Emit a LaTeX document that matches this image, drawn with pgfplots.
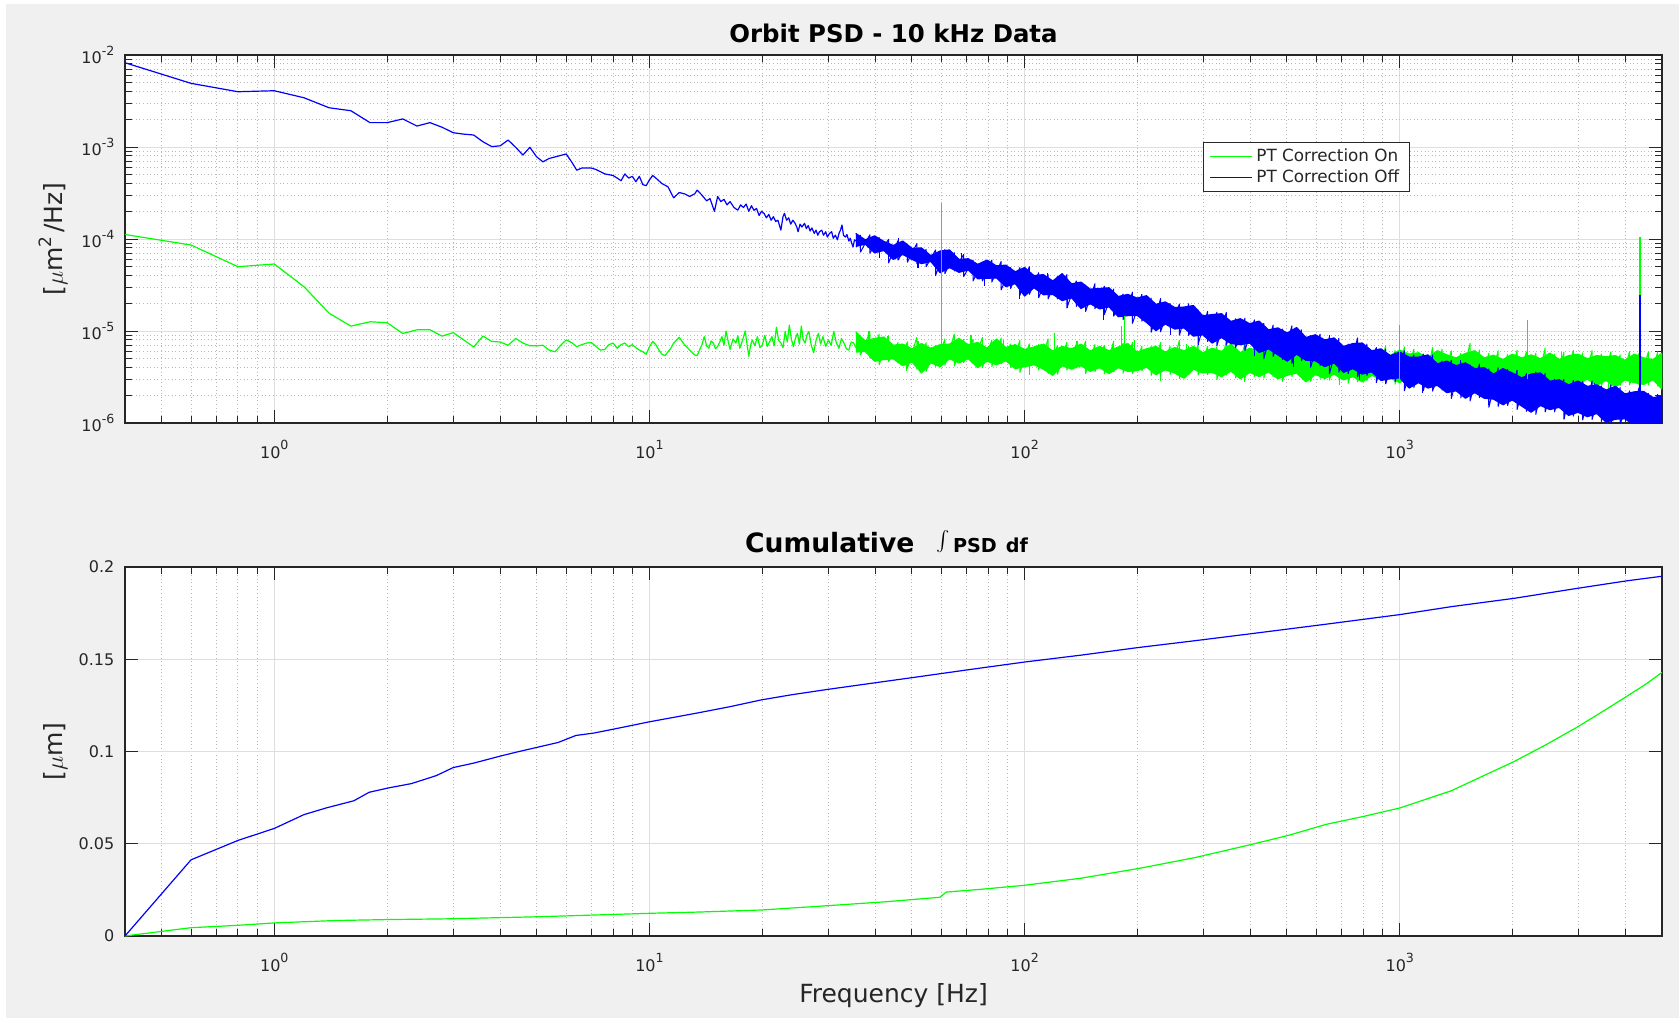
\documentclass[border=0pt]{standalone}
\usepackage{fontspec}
\setmainfont{DejaVu Sans}
\usepackage{pgfplots}
\pgfplotsset{compat=1.18}

\definecolor{bggray}{RGB}{240,240,240}
\definecolor{axcol}{RGB}{38,38,38}
\definecolor{majgrid}{RGB}{222,222,222}
\definecolor{mingrid}{RGB}{185,185,185}
\definecolor{legbox}{RGB}{40,40,40}
\definecolor{gOn}{RGB}{0,255,0}
\definecolor{bOff}{RGB}{0,0,255}

\newcommand\tickfont{\fontsize{8}{9.6}\selectfont}
\newcommand\sups[1]{\raisebox{4.4pt}{\fontsize{6.3}{7}\selectfont #1}}

\begin{document}
\begin{tikzpicture}
% figure background
\fill[bggray] (0,0) rectangle (839.5pt,509pt);
\fill[white] (0,0) rectangle (3pt,509pt);
\fill[white] (0,507pt) rectangle (839.5pt,509pt);

% ---------------- power spectral density ----------------
\begin{axis}[
  at={(62.5pt,297.5pt)}, anchor=south west,
  scale only axis, width=768.5pt, height=184pt,
  xmode=log, xmin=0.4, xmax=5000,
  xtick={1,10,100,1000},
  xticklabels={{10\sups{0}},{10\sups{1}},{10\sups{2}},{10\sups{3}}},
  minor xtick={0.5,0.6,0.7,0.8,0.9,2,3,4,5,6,7,8,9,20,30,40,50,60,70,80,90,200,300,400,500,600,700,800,900,2000,3000,4000},
  ymode=log, ymin=1e-6, ymax=1e-2,
  ytick={1e-6,1e-5,1e-4,1e-3,1e-2},
  yticklabels={{10\sups{-6}},{10\sups{-5}},{10\sups{-4}},{10\sups{-3}},{10\sups{-2}}},
  minor ytick={2e-6,3e-6,4e-6,5e-6,6e-6,7e-6,8e-6,9e-6,
               2e-5,3e-5,4e-5,5e-5,6e-5,7e-5,8e-5,9e-5,
               2e-4,3e-4,4e-4,5e-4,6e-4,7e-4,8e-4,9e-4,
               2e-3,3e-3,4e-3,5e-3,6e-3,7e-3,8e-3,9e-3},
  xmajorgrids, xminorgrids, ymajorgrids, yminorgrids,
  tick align=inside,
  major tick length=6.5pt, minor tick length=3.3pt,
  tick style={draw=axcol, line width=0.5pt},
  axis line style={draw=axcol, line width=0.6pt},
  tick label style={font=\tickfont, text=axcol},
  xticklabel style={yshift=-5pt},
  yticklabel style={xshift=-1.8pt},
  major grid style={draw=majgrid, line width=0.5pt},
  minor grid style={draw=mingrid, line width=0.5pt, dash pattern=on 0.5pt off 1.3pt},
  axis background/.style={fill=white},
  every axis plot/.append style={line join=round, line width=0.6pt},
  legend style={at={(0.7012,0.7644)}, anchor=north west,
    draw=legbox, line width=0.5pt, fill=white,
    font=\fontsize{8.4}{10}\selectfont, text=axcol,
    inner xsep=3pt, inner ysep=1.8pt, row sep=0pt,
    nodes={inner xsep=2pt, inner ysep=1.3pt}},
  legend cell align=left,
  legend image code/.code={\draw[#1, line width=0.6pt] (0pt,0pt) -- (21pt,0pt);},
]
\addlegendimage{draw=gOn}
\addlegendentry{PT Correction On}
\addlegendimage{draw=bOff}
\addlegendentry{PT Correction Off}

% correction on: low-frequency trace
\addplot[draw=gOn, forget plot] coordinates {
(0.4,1.12e-4) (0.6,8.6e-5) (0.8,5.0e-5) (1.0,5.35e-5) (1.2,3.03e-5) (1.4,1.56e-5)
(1.6,1.13e-5) (1.8,1.26e-5) (2.0,1.23e-5) (2.2,9.4e-6) (2.4,1.03e-5) (2.6,1.03e-5)
(2.8,8.8e-6) (3.0,9.6e-6) (3.2,8.0e-6) (3.4,6.7e-6) (3.6,8.8e-6) (3.8,7.7e-6)
(4.0,7.6e-6) (4.2,7.0e-6) (4.4,8.3e-6) (4.6,7.4e-6) (4.8,6.9e-6) (5.0,6.9e-6)
(5.2,7.0e-6) (5.4,6.2e-6) (5.6,5.95e-6) (5.8,7.0e-6) (6.0,8.0e-6) (6.2,7.5e-6)
(6.4,6.75e-6) (6.6,7.1e-6) (6.8,7.4e-6) (7.0,7.5e-6) (7.2,6.8e-6) (7.4,6.2e-6)
(7.6,6.3e-6) (7.8,7.1e-6) (8.0,7.4e-6) (8.2,6.5e-6) (8.4,7.1e-6) (8.6,7.4e-6)
(8.8,6.75e-6) (9.0,7.1e-6) (9.2,6.6e-6) (9.4,6.2e-6) (9.6,5.95e-6) (9.8,5.6e-6)
(10.0,6.75e-6) (10.2,7.7e-6) (10.4,7.1e-6) (10.6,6.2e-6) (10.8,5.6e-6) (11.0,5.4e-6)
(11.4,6.5e-6) (11.6,7.4e-6) (12.0,8.55e-6) (12.4,7.1e-6) (12.8,6.2e-6) (13.2,5.5e-6)
(13.4,5.4e-6) (13.8,7.1e-6) (14.0,8.7e-6) (14.2,6.9e-6) (14.4,6.5e-6) (14.6,7.8e-6)
(14.8,7.4e-6) (15.0,6.4e-6) (15.2,6.8e-6) (15.4,7.6e-6) (15.6,8.7e-6) (15.8,7.0e-6)
(16.0,1.0e-5) (16.2,7.8e-6) (16.4,6.3e-6) (16.7,8.2e-6) (17.0,7.4e-6) (17.2,8.9e-6)
(17.4,6.5e-6) (17.7,7.9e-6) (18.0,1.0e-5) (18.2,7.2e-6) (18.4,5.3e-6) (18.6,7.0e-6)
(18.8,8.0e-6) (19.1,6.9e-6) (19.4,8.7e-6) (19.7,6.6e-6) (20.0,7.1e-6) (20.3,9.0e-6)
(20.6,6.8e-6) (20.9,7.6e-6) (21.2,8.7e-6) (21.5,6.9e-6) (21.8,1.1e-5) (22.1,7.9e-6)
(22.4,7.4e-6) (22.7,6.6e-6) (23.0,9.9e-6) (23.3,7.6e-6) (23.6,1.16e-5) (23.9,8.1e-6)
(24.2,6.75e-6) (24.5,8.4e-6) (24.8,9.4e-6) (25.1,7.2e-6) (25.4,1.13e-5) (25.7,8.0e-6)
(26.0,7.4e-6) (26.3,9.1e-6) (26.6,9.9e-6) (27.0,7.0e-6) (27.4,5.8e-6) (27.8,7.9e-6)
(28.2,9.4e-6) (28.6,7.2e-6) (29.0,8.7e-6) (29.5,6.8e-6) (30.0,8.0e-6) (30.5,7.0e-6)
(31.0,9.9e-6) (31.5,7.4e-6) (32.0,6.5e-6) (32.5,8.3e-6) (33.0,7.4e-6) (33.5,6.4e-6)
(34.0,6.2e-6) (34.5,7.6e-6) (35.0,7.4e-6) (35.5,6.6e-6)
};

% correction on: noise band above 35 Hz (upper envelope, then lower envelope)
\addplot[draw=gOn, fill=gOn, forget plot] coordinates {
(35.48,9.8e-6) (37.58,7.8e-6) (39.81,8.3e-6) (42.17,8.6e-6) (44.67,7.0e-6) (47.32,7.2e-6)
(50.12,6.4e-6) (53.09,7.3e-6) (56.23,6.5e-6) (59.57,7.1e-6) (63.10,7.2e-6) (66.83,8.3e-6)
(70.79,7.1e-6) (74.99,7.5e-6) (79.43,6.5e-6) (84.14,8.2e-6) (89.13,6.6e-6) (94.41,7.1e-6)
(100.0,6.3e-6) (105.9,6.7e-6) (112.2,7.2e-6) (118.9,6.05e-6) (125.9,6.8e-6) (133.4,6.4e-6)
(141.3,7.2e-6) (149.6,6.05e-6) (158.5,6.8e-6) (167.9,6.1e-6) (177.8,6.7e-6) (188.4,7.3e-6)
(199.5,5.9e-6) (211.3,6.4e-6) (223.9,6.8e-6) (237.1,5.9e-6) (251.2,6.6e-6) (266.1,6.1e-6)
(281.8,6.8e-6) (298.5,5.8e-6) (316.2,6.5e-6) (335.0,6.0e-6) (354.8,7.2e-6) (375.8,5.8e-6)
(398.1,6.5e-6) (421.7,6.0e-6) (446.7,6.5e-6) (473.2,5.5e-6) (501.2,6.2e-6) (530.9,6.6e-6)
(562.3,5.75e-6) (595.7,6.3e-6) (631.0,5.6e-6) (668.3,6.3e-6) (707.9,5.75e-6) (749.9,6.0e-6)
(794.3,6.5e-6) (841.4,5.4e-6) (891.3,6.0e-6) (944.1,5.45e-6) (1000,6.2e-6) (1059,5.6e-6)
(1122,5.8e-6) (1189,5.1e-6) (1259,6.1e-6) (1334,5.5e-6) (1413,5.1e-6) (1496,5.7e-6)
(1585,6.1e-6) (1679,5.1e-6) (1778,5.45e-6) (1884,4.9e-6) (1995,5.6e-6) (2113,5.1e-6)
(2239,5.5e-6) (2371,5.0e-6) (2512,5.75e-6) (2661,4.9e-6) (2818,5.4e-6) (2985,5.6e-6)
(3162,5.0e-6) (3350,5.4e-6) (3548,5.25e-6) (3758,5.4e-6) (3981,4.8e-6) (4217,5.6e-6)
(4467,5.1e-6) (4732,4.9e-6) (5000,5.75e-6)
(5000,2.34e-6) (4732,2.95e-6) (4467,2.63e-6) (4217,2.75e-6) (3981,2.95e-6) (3758,2.45e-6)
(3548,2.9e-6) (3350,2.57e-6) (3162,3.0e-6) (2985,2.7e-6) (2818,2.63e-6) (2661,2.5e-6)
(2512,2.95e-6) (2371,2.7e-6) (2239,2.57e-6) (2113,2.9e-6) (1995,2.75e-6) (1884,2.47e-6)
(1778,3.0e-6) (1679,2.7e-6) (1585,2.9e-6) (1496,2.6e-6) (1413,3.1e-6) (1334,2.84e-6)
(1259,3.07e-6) (1189,2.5e-6) (1122,2.84e-6) (1059,3.2e-6) (1000,2.75e-6) (944.1,3.07e-6)
(891.3,3.0e-6) (841.4,3.3e-6) (794.3,2.8e-6) (749.9,3.2e-6) (707.9,2.95e-6) (668.3,3.4e-6)
(631.0,3.05e-6) (595.7,3.37e-6) (562.3,2.8e-6) (530.9,3.5e-6) (501.2,3.3e-6) (473.2,3.03e-6)
(446.7,3.6e-6) (421.7,3.2e-6) (398.1,3.55e-6) (375.8,3.03e-6) (354.8,3.67e-6) (335.0,3.2e-6)
(316.2,3.55e-6) (298.5,3.5e-6) (281.8,3.85e-6) (266.1,3.07e-6) (251.2,3.5e-6) (237.1,3.8e-6)
(223.9,3.35e-6) (211.3,4.05e-6) (199.5,3.7e-6) (188.4,3.65e-6) (177.8,4.0e-6) (167.9,3.45e-6)
(158.5,4.0e-6) (149.6,3.65e-6) (141.3,4.2e-6) (133.4,3.86e-6) (125.9,4.2e-6) (118.9,3.3e-6)
(112.2,3.85e-6) (105.9,4.3e-6) (100.0,4.1e-6) (94.41,3.9e-6) (89.13,4.75e-6) (84.14,4.3e-6)
(79.43,4.7e-6) (74.99,4.0e-6) (70.79,5.0e-6) (66.83,4.5e-6) (63.10,5.0e-6) (59.57,4.1e-6)
(56.23,4.5e-6) (53.09,3.5e-6) (50.12,4.6e-6) (47.32,4.2e-6) (44.67,5.0e-6) (42.17,4.9e-6)
(39.81,4.7e-6) (37.58,6.0e-6) (35.48,5.9e-6)
};

% correction on: sample-to-sample scatter at the band edges
\addplot[draw=gOn, line width=0.5pt, forget plot] coordinates {
(36.52,8.95e-6) (36.52,5.5e-6) (38.68,9.75e-6) (38.68,5.1e-6) (40.97,9.2e-6) (40.97,4.3e-6)
(43.40,8.9e-6) (43.40,4.65e-6) (45.97,7.5e-6) (45.97,4.5e-6) (48.70,7.6e-6) (48.70,3.93e-6)
(51.58,8.5e-6) (51.58,3.84e-6) (54.64,7.45e-6) (54.64,3.64e-6) (57.88,6.95e-6) (57.88,4.13e-6)
(61.31,8.2e-6) (61.31,4.24e-6) (64.94,9.2e-6) (64.94,4.16e-6) (68.79,8.1e-6) (68.79,4.52e-6)
(72.86,8.15e-6) (72.86,4.43e-6) (77.18,8.5e-6) (77.18,4.02e-6) (81.75,7.96e-6) (81.75,4.1e-6)
(86.60,8.4e-6) (86.60,4.39e-6) (91.73,7.2e-6) (91.73,4.03e-6) (97.16,7.9e-6) (97.16,3.55e-6)
(102.9,7.26e-6) (102.9,4.0e-6) (109.0,7.13e-6) (109.0,3.77e-6) (115.5,8.2e-6) (115.5,3.46e-6)
(122.3,6.95e-6) (122.3,3.38e-6) (129.6,7.55e-6) (129.6,3.76e-6) (137.3,7.16e-6) (137.3,3.97e-6)
(145.4,7.76e-6) (145.4,3.44e-6) (154.0,7.14e-6) (154.0,3.63e-6) (163.1,6.98e-6) (163.1,3.41e-6)
(172.8,7.76e-6) (172.8,3.6e-6) (183.0,7.36e-6) (183.0,3.48e-6) (193.9,7.5e-6) (193.9,3.45e-6)
(205.4,6.85e-6) (205.4,3.69e-6) (217.5,6.8e-6) (217.5,3.29e-6) (230.4,7.5e-6) (230.4,3.46e-6)
(244.1,6.8e-6) (244.1,3.36e-6) (258.5,7.9e-6) (258.5,3.05e-6) (273.8,6.84e-6) (273.8,3.38e-6)
(290.1,7.2e-6) (290.1,3.32e-6) (307.3,6.82e-6) (307.3,3.35e-6) (325.5,6.75e-6) (325.5,2.96e-6)
(344.8,7.73e-6) (344.8,3.33e-6) (365.2,6.8e-6) (365.2,3.08e-6) (386.8,7.4e-6) (386.8,3.08e-6)
(409.7,6.93e-6) (409.7,3.21e-6) (434.0,6.43e-6) (434.0,3.08e-6) (459.7,6.89e-6) (459.7,3.19e-6)
(487.0,6.34e-6) (487.0,2.83e-6) (515.8,7.5e-6) (515.8,3.2e-6) (546.4,6.49e-6) (546.4,3.1e-6)
(578.8,7.48e-6) (578.8,2.84e-6) (613.1,6.6e-6) (613.1,3.05e-6) (649.4,6.44e-6) (649.4,2.92e-6)
(687.9,6.93e-6) (687.9,3.07e-6) (728.6,6.2e-6) (728.6,2.7e-6) (771.8,7.38e-6) (771.8,2.81e-6)
(817.5,6.62e-6) (817.5,2.9e-6) (866.0,6.2e-6) (866.0,2.92e-6) (917.3,6.95e-6) (917.3,2.94e-6)
(971.6,6.12e-6) (971.6,2.64e-6) (1029,6.73e-6) (1029,2.79e-6) (1090,6.35e-6) (1090,2.88e-6)
(1155,5.6e-6) (1155,2.38e-6) (1223,6.6e-6) (1223,2.69e-6) (1296,6.32e-6) (1296,2.72e-6)
(1372,6.1e-6) (1372,2.77e-6) (1454,5.71e-6) (1454,2.79e-6) (1540,7.35e-6) (1540,2.5e-6)
(1631,6.22e-6) (1631,2.66e-6) (1728,5.74e-6) (1728,2.62e-6) (1830,6.12e-6) (1830,2.64e-6)
(1939,5.56e-6) (1939,2.29e-6) (2054,6.17e-6) (2054,2.64e-6) (2175,5.93e-6) (2175,2.59e-6)
(2304,5.7e-6) (2304,2.39e-6) (2441,6.52e-6) (2441,2.73e-6) (2585,5.61e-6) (2585,2.51e-6)
(2738,5.89e-6) (2738,2.41e-6) (2901,6.14e-6) (2901,2.54e-6) (3073,5.77e-6) (3073,2.55e-6)
(3255,6.12e-6) (3255,2.7e-6) (3447,5.61e-6) (3447,2.51e-6) (3652,5.93e-6) (3652,2.49e-6)
(3868,5.51e-6) (3868,2.56e-6) (4097,5.96e-6) (4097,2.59e-6) (4340,5.68e-6) (4340,2.61e-6)
(4597,5.92e-6) (4597,2.61e-6) (4870,5.93e-6) (4870,2.51e-6)
};

% correction on: isolated excursions out of the noise band
\addplot[draw=gOn, forget plot] coordinates {(38.5,6.6e-6) (38.5,1.0e-5)};
\addplot[draw=gOn, forget plot] coordinates {(43,6.1e-6) (43,8.8e-6)};
\addplot[draw=gOn, forget plot] coordinates {(48.5,5.7e-6) (48.5,3.7e-6)};
\addplot[draw=gOn, forget plot] coordinates {(52,5.5e-6) (52,7.8e-6)};
\addplot[draw=gOn, forget plot] coordinates {(72,5.9e-6) (72,9.1e-6)};
\addplot[draw=gOn, forget plot] coordinates {(88,5.5e-6) (88,7.9e-6)};
\addplot[draw=gOn, forget plot] coordinates {(103,5.2e-6) (103,3.3e-6)};
\addplot[draw=gOn, forget plot] coordinates {(138,5.1e-6) (138,7.7e-6)};
\addplot[draw=gOn, forget plot] coordinates {(172,5.0e-6) (172,7.2e-6)};
\addplot[draw=gOn, forget plot] coordinates {(230,4.8e-6) (230,2.84e-6)};
\addplot[draw=gOn, forget plot] coordinates {(270,4.75e-6) (270,7.2e-6)};
\addplot[draw=gOn, forget plot] coordinates {(385,4.6e-6) (385,2.77e-6)};
\addplot[draw=gOn, forget plot] coordinates {(480,4.5e-6) (480,6.95e-6)};
\addplot[draw=gOn, forget plot] coordinates {(690,4.3e-6) (690,2.57e-6)};
\addplot[draw=gOn, forget plot] coordinates {(860,4.2e-6) (860,6.5e-6)};
\addplot[draw=gOn, forget plot] coordinates {(1240,4.1e-6) (1240,2.4e-6)};
\addplot[draw=gOn, forget plot] coordinates {(1630,3.9e-6) (1630,5.9e-6)};
\addplot[draw=gOn, forget plot] coordinates {(2050,3.8e-6) (2050,2.34e-6)};
\addplot[draw=gOn, forget plot] coordinates {(2700,3.8e-6) (2700,5.9e-6)};
\addplot[draw=gOn, forget plot] coordinates {(3600,3.8e-6) (3600,2.24e-6)};
\addplot[draw=gOn, forget plot] coordinates {(4100,3.8e-6) (4100,5.75e-6)};

% correction off: low-frequency trace
\addplot[draw=bOff, forget plot] coordinates {
(0.4,8.24e-3) (0.6,4.92e-3) (0.8,3.99e-3) (1.0,4.09e-3) (1.2,3.43e-3) (1.4,2.67e-3)
(1.6,2.48e-3) (1.8,1.84e-3) (2.0,1.84e-3) (2.2,2.02e-3) (2.4,1.69e-3) (2.6,1.84e-3)
(2.8,1.64e-3) (3.0,1.43e-3) (3.2,1.38e-3) (3.4,1.35e-3) (3.6,1.14e-3) (3.8,1.01e-3)
(4.0,1.03e-3) (4.2,1.19e-3) (4.4,9.93e-4) (4.6,8.18e-4) (4.8,9.93e-4) (5.0,7.85e-4)
(5.2,6.9e-4) (5.4,7.5e-4) (5.6,7.8e-4) (5.8,8.1e-4) (6.0,8.4e-4) (6.2,6.9e-4)
(6.4,5.6e-4) (6.6,5.9e-4) (6.8,5.9e-4) (7.0,5.9e-4) (7.2,5.7e-4) (7.4,5.4e-4)
(7.6,5.1e-4) (7.8,5.0e-4) (8.0,4.9e-4) (8.2,4.6e-4) (8.4,4.3e-4) (8.6,5.1e-4)
(8.8,4.6e-4) (9.0,4.8e-4) (9.2,4.2e-4) (9.4,4.8e-4) (9.6,3.9e-4) (9.8,3.8e-4)
(10.0,4.4e-4) (10.2,4.9e-4) (10.4,4.6e-4) (10.8,4.0e-4) (11.2,3.7e-4) (11.6,2.8e-4)
(12.0,3.2e-4) (12.4,3.1e-4) (12.8,2.9e-4) (13.2,3.1e-4) (13.4,3.4e-4) (13.8,3.0e-4)
(14.2,2.6e-4) (14.5,2.75e-4) (14.9,2.0e-4) (15.2,2.9e-4) (15.5,2.55e-4) (15.8,2.7e-4)
(16.1,2.35e-4) (16.4,2.55e-4) (16.8,2.2e-4) (17.2,2.06e-4) (17.5,2.35e-4) (17.8,2.2e-4)
(18.1,2.4e-4) (18.4,2.0e-4) (18.7,2.3e-4) (19.0,2.05e-4) (19.3,2.15e-4) (19.6,1.8e-4)
(19.9,2.0e-4) (20.2,1.9e-4) (20.5,1.7e-4) (20.8,1.85e-4) (21.1,1.6e-4) (21.4,1.75e-4)
(21.7,1.55e-4) (22.0,1.6e-4) (22.4,1.25e-4) (22.7,1.75e-4) (22.9,1.9e-4) (23.2,1.6e-4)
(23.5,1.7e-4) (23.8,1.45e-4) (24.1,1.6e-4) (24.4,1.5e-4) (24.7,1.35e-4) (24.9,1.2e-4)
(25.2,1.45e-4) (25.5,1.35e-4) (25.9,1.48e-4) (26.2,1.3e-4) (26.5,1.4e-4) (26.8,1.22e-4)
(27.1,1.32e-4) (27.5,1.15e-4) (27.8,1.25e-4) (28.1,1.1e-4) (28.4,1.2e-4) (28.8,1.25e-4)
(29.1,1.1e-4) (29.5,1.2e-4) (29.8,1.05e-4) (30.2,1.15e-4) (30.6,1.2e-4) (30.9,1.02e-4)
(31.3,1.1e-4) (31.7,9.8e-5) (32.0,1.15e-4) (32.3,1.25e-4) (32.6,1.42e-4) (32.9,1.1e-4)
(33.3,1.05e-4) (33.6,1.12e-4) (34.0,9.5e-5) (34.3,1.02e-4) (34.6,9.0e-5) (34.9,8.2e-5)
(35.2,9.8e-5) (35.6,9.5e-5)
};

% correction off: noise band above 35 Hz (upper envelope, then lower envelope)
\addplot[draw=bOff, fill=bOff, forget plot] coordinates {
(35.48,1.15e-4) (37.58,9.8e-5) (39.81,1.08e-4) (42.17,9.4e-5) (44.67,8.5e-5) (47.32,9.5e-5)
(50.12,7.9e-5) (53.09,8.0e-5) (56.23,6.6e-5) (59.57,7.4e-5) (63.10,7.6e-5) (66.83,6.0e-5)
(70.79,6.1e-5) (74.99,5.3e-5) (79.43,5.9e-5) (84.14,5.1e-5) (89.13,5.2e-5) (94.41,4.4e-5)
(100.0,4.9e-5) (105.9,4.0e-5) (112.2,4.1e-5) (118.9,3.5e-5) (125.9,4.2e-5) (133.4,3.25e-5)
(141.3,3.4e-5) (149.6,2.85e-5) (158.5,2.9e-5) (167.9,2.95e-5) (177.8,2.37e-5) (188.4,2.5e-5)
(199.5,2.28e-5) (211.3,2.42e-5) (223.9,1.95e-5) (237.1,2.07e-5) (251.2,1.8e-5) (266.1,1.82e-5)
(281.8,1.89e-5) (298.5,1.46e-5) (316.2,1.51e-5) (335.0,1.54e-5) (354.8,1.27e-5) (375.8,1.36e-5)
(398.1,1.2e-5) (421.7,1.28e-5) (446.7,1.03e-5) (473.2,1.08e-5) (501.2,9.5e-6) (530.9,1.09e-5)
(562.3,8.5e-6) (595.7,9.1e-6) (631.0,8.0e-6) (668.3,8.4e-6) (707.9,6.8e-6) (749.9,7.3e-6)
(794.3,7.4e-6) (841.4,6.1e-6) (891.3,6.4e-6) (944.1,5.4e-6) (1000,5.9e-6) (1059,5.2e-6)
(1122,5.2e-6) (1189,5.5e-6) (1259,4.4e-6) (1334,4.7e-6) (1413,4.2e-6) (1496,4.5e-6)
(1585,3.9e-6) (1679,4.0e-6) (1778,3.4e-6) (1884,3.9e-6) (1995,3.5e-6) (2113,3.1e-6)
(2239,3.4e-6) (2371,3.5e-6) (2512,2.85e-6) (2661,2.95e-6) (2818,2.6e-6) (2985,2.86e-6)
(3162,2.5e-6) (3350,2.6e-6) (3548,2.28e-6) (3758,2.5e-6) (3981,2.07e-6) (4217,2.18e-6)
(4467,2.2e-6) (4732,1.89e-6) (5000,1.95e-6)
(5000,8.3e-7) (4732,1.01e-6) (4467,9.6e-7) (4217,9.5e-7) (3981,1.11e-6) (3758,1.1e-6)
(3548,1.02e-6) (3350,1.27e-6) (3162,1.17e-6) (2985,1.31e-6) (2818,1.21e-6) (2661,1.48e-6)
(2512,1.4e-6) (2371,1.55e-6) (2239,1.31e-6) (2113,1.53e-6) (1995,1.78e-6) (1884,1.58e-6)
(1778,1.82e-6) (1679,1.86e-6) (1585,2.14e-6) (1496,1.86e-6) (1413,2.24e-6) (1334,2.14e-6)
(1259,2.57e-6) (1189,2.4e-6) (1122,2.75e-6) (1059,2.4e-6) (1000,3.1e-6) (944.1,3.03e-6)
(891.3,2.9e-6) (841.4,3.6e-6) (794.3,3.4e-6) (749.9,3.9e-6) (707.9,3.55e-6) (668.3,4.5e-6)
(631.0,4.1e-6) (595.7,4.75e-6) (562.3,4.8e-6) (530.9,5.6e-6) (501.2,4.7e-6) (473.2,5.5e-6)
(446.7,6.4e-6) (421.7,5.85e-6) (398.1,7.4e-6) (375.8,7.1e-6) (354.8,7.3e-6) (335.0,8.5e-6)
(316.2,7.4e-6) (298.5,9.1e-6) (281.8,8.8e-6) (266.1,1.08e-5) (251.2,1.05e-5) (237.1,1.19e-5)
(223.9,1.01e-5) (211.3,1.24e-5) (199.5,1.48e-5) (188.4,1.47e-5) (177.8,1.43e-5) (167.9,1.83e-5)
(158.5,1.74e-5) (149.6,1.98e-5) (141.3,1.76e-5) (133.4,2.3e-5) (125.9,2.14e-5) (118.9,2.5e-5)
(112.2,2.48e-5) (105.9,2.96e-5) (100.0,2.4e-5) (94.41,3.28e-5) (89.13,3.03e-5) (84.14,3.78e-5)
(79.43,3.74e-5) (74.99,3.7e-5) (70.79,4.6e-5) (66.83,4.35e-5) (63.10,4.9e-5) (59.57,4.3e-5)
(56.23,5.7e-5) (53.09,5.4e-5) (50.12,6.0e-5) (47.32,6.8e-5) (44.67,6.0e-5) (42.17,7.5e-5)
(39.81,7.1e-5) (37.58,8.8e-5) (35.48,8.3e-5)
};

% correction off: sample-to-sample scatter at the band edges
\addplot[draw=bOff, line width=0.5pt, forget plot] coordinates {
(36.52,1.11e-4) (36.52,7.2e-5) (38.68,1.11e-4) (38.68,7.0e-5) (40.97,1.04e-4) (40.97,7.1e-5)
(43.40,9.9e-5) (43.40,5.5e-5) (45.97,9.6e-5) (45.97,5.9e-5) (48.70,8.8e-5) (48.70,5.6e-5)
(51.58,8.9e-5) (51.58,5.4e-5) (54.64,7.7e-5) (54.64,5.0e-5) (57.88,7.6e-5) (57.88,4.0e-5)
(61.31,7.7e-5) (61.31,4.2e-5) (64.94,7.1e-5) (64.94,4.5e-5) (68.79,6.8e-5) (68.79,3.9e-5)
(72.86,5.9e-5) (72.86,3.5e-5) (77.18,5.6e-5) (77.18,3.5e-5) (81.75,5.9e-5) (81.75,3.4e-5)
(86.60,5.7e-5) (86.60,2.8e-5) (91.73,4.9e-5) (91.73,2.9e-5) (97.16,4.9e-5) (97.16,2.44e-5)
(102.9,5.0e-5) (102.9,2.5e-5) (109.0,4.3e-5) (109.0,2.3e-5) (115.5,4.1e-5) (115.5,2.23e-5)
(122.3,3.9e-5) (122.3,2.24e-5) (129.6,4.1e-5) (129.6,1.78e-5) (137.3,3.5e-5) (137.3,1.85e-5)
(145.4,3.15e-5) (145.4,1.63e-5) (154.0,3.27e-5) (154.0,1.75e-5) (163.1,3.06e-5) (163.1,1.51e-5)
(172.8,2.86e-5) (172.8,1.45e-5) (183.0,2.52e-5) (183.0,1.33e-5) (193.9,2.64e-5) (193.9,1.21e-5)
(205.4,2.5e-5) (205.4,1.28e-5) (217.5,2.28e-5) (217.5,9.7e-6) (230.4,2.25e-5) (230.4,9.8e-6)
(244.1,1.99e-5) (244.1,1.09e-5) (258.5,1.96e-5) (258.5,9.0e-6) (273.8,1.98e-5) (273.8,8.95e-6)
(290.1,1.69e-5) (290.1,7.2e-6) (307.3,1.63e-5) (307.3,7.7e-6) (325.5,1.6e-5) (325.5,6.9e-6)
(344.8,1.59e-5) (344.8,7.05e-6) (365.2,1.36e-5) (365.2,6.6e-6) (386.8,1.38e-5) (386.8,6.15e-6)
(409.7,1.32e-5) (409.7,6.2e-6) (434.0,1.21e-5) (434.0,5.0e-6) (459.7,1.16e-5) (459.7,5.3e-6)
(487.0,1.05e-5) (487.0,4.9e-6) (515.8,1.14e-5) (515.8,4.45e-6) (546.4,1.03e-5) (546.4,4.75e-6)
(578.8,8.9e-6) (578.8,4.04e-6) (613.1,9.25e-6) (613.1,4.2e-6) (649.4,8.6e-6) (649.4,3.44e-6)
(687.9,8.3e-6) (687.9,3.57e-6) (728.6,7.2e-6) (728.6,3.43e-6) (771.8,8.4e-6) (771.8,3.17e-6)
(817.5,7.2e-6) (817.5,3.3e-6) (866.0,6.6e-6) (866.0,2.75e-6) (917.3,6.35e-6) (917.3,2.66e-6)
(971.6,5.8e-6) (971.6,2.82e-6) (1029,6.1e-6) (1029,2.24e-6) (1090,5.5e-6) (1090,2.43e-6)
(1155,5.6e-6) (1155,2.24e-6) (1223,5.5e-6) (1223,2.22e-6) (1296,4.72e-6) (1296,2.28e-6)
(1372,4.82e-6) (1372,1.85e-6) (1454,4.62e-6) (1454,1.88e-6) (1540,4.29e-6) (1540,1.74e-6)
(1631,4.37e-6) (1631,1.89e-6) (1728,3.87e-6) (1728,1.48e-6) (1830,3.98e-6) (1830,1.52e-6)
(1939,3.82e-6) (1939,1.55e-6) (2054,3.74e-6) (2054,1.4e-6) (2175,3.45e-6) (2175,1.34e-6)
(2304,3.59e-6) (2304,1.24e-6) (2441,3.47e-6) (2441,1.32e-6) (2585,2.99e-6) (2585,1.32e-6)
(2738,2.99e-6) (2738,1.1e-6) (2901,2.9e-6) (2901,1.19e-6) (3073,2.81e-6) (3073,1.08e-6)
(3255,2.86e-6) (3255,1.09e-6) (3447,2.5e-6) (3447,1.04e-6) (3652,2.6e-6) (3652,9.5e-7)
(3868,2.43e-6) (3868,9.5e-7) (4097,2.23e-6) (4097,9.5e-7) (4340,2.41e-6) (4340,9.5e-7)
(4597,2.1e-6) (4597,9.5e-7) (4870,2.05e-6) (4870,9.5e-7)
};

% correction off: isolated excursions out of the noise band
\addplot[draw=bOff, forget plot] coordinates {(41,8.5e-5) (41,6.2e-5)};
\addplot[draw=bOff, forget plot] coordinates {(46,7.6e-5) (46,1.02e-4)};
\addplot[draw=bOff, forget plot] coordinates {(52,6.8e-5) (52,4.8e-5)};
\addplot[draw=bOff, forget plot] coordinates {(68,5.2e-5) (68,7.1e-5)};
\addplot[draw=bOff, forget plot] coordinates {(78,4.6e-5) (78,3.1e-5)};
\addplot[draw=bOff, forget plot] coordinates {(97,3.7e-5) (97,2.24e-5)};
\addplot[draw=bOff, forget plot] coordinates {(115,3.2e-5) (115,4.3e-5)};
\addplot[draw=bOff, forget plot] coordinates {(130,2.8e-5) (130,1.8e-5)};
\addplot[draw=bOff, forget plot] coordinates {(162,2.2e-5) (162,1.33e-5)};
\addplot[draw=bOff, forget plot] coordinates {(205,1.74e-5) (205,2.54e-5)};
\addplot[draw=bOff, forget plot] coordinates {(245,1.46e-5) (245,9.0e-6)};
\addplot[draw=bOff, forget plot] coordinates {(290,1.22e-5) (290,7.0e-6)};
\addplot[draw=bOff, forget plot] coordinates {(345,1.04e-5) (345,1.57e-5)};
\addplot[draw=bOff, forget plot] coordinates {(410,8.9e-6) (410,5.4e-6)};
\addplot[draw=bOff, forget plot] coordinates {(520,7.2e-6) (520,4.1e-6)};
\addplot[draw=bOff, forget plot] coordinates {(650,5.9e-6) (650,9.0e-6)};
\addplot[draw=bOff, forget plot] coordinates {(780,5.0e-6) (780,2.9e-6)};
\addplot[draw=bOff, forget plot] coordinates {(1150,3.6e-6) (1150,2.1e-6)};
\addplot[draw=bOff, forget plot] coordinates {(1450,3.0e-6) (1450,4.8e-6)};
\addplot[draw=bOff, forget plot] coordinates {(1720,2.7e-6) (1720,1.58e-6)};
\addplot[draw=bOff, forget plot] coordinates {(2400,2.1e-6) (2400,3.45e-6)};
\addplot[draw=bOff, forget plot] coordinates {(2750,1.95e-6) (2750,1.1e-6)};
\addplot[draw=bOff, forget plot] coordinates {(3300,1.7e-6) (3300,2.74e-6)};

% narrow spectral lines
\addplot[draw=gOn, forget plot] coordinates {(60,4.3e-6) (60,2.45e-4)};
\addplot[draw=gOn, forget plot] coordinates {(120,5.0e-6) (120,9.6e-6)};
\addplot[draw=gOn, forget plot] coordinates {(181,4.0e-6) (181,1.12e-5)};
\addplot[draw=gOn, forget plot] coordinates {(185,4.0e-6) (185,1.44e-5)};
\addplot[draw=gOn, forget plot] coordinates {(196,4.0e-6) (196,7.9e-6)};
\addplot[draw=gOn, forget plot] coordinates {(1000,3.0e-6) (1000,1.16e-5)};
\addplot[draw=gOn, forget plot] coordinates {(2187,3.0e-6) (2187,1.32e-5)};
\addplot[draw=gOn, forget plot] coordinates {(4370,2.6e-6) (4370,1.06e-4)};
\addplot[draw=bOff, forget plot] coordinates {(4370,1.0e-6) (4370,2.45e-5)};
\end{axis}

% ---------------- cumulative integral ----------------
\begin{axis}[
  at={(62.5pt,41pt)}, anchor=south west,
  scale only axis, width=768.5pt, height=184.5pt,
  xmode=log, xmin=0.4, xmax=5000,
  xtick={1,10,100,1000},
  xticklabels={{10\sups{0}},{10\sups{1}},{10\sups{2}},{10\sups{3}}},
  minor xtick={0.5,0.6,0.7,0.8,0.9,2,3,4,5,6,7,8,9,20,30,40,50,60,70,80,90,200,300,400,500,600,700,800,900,2000,3000,4000},
  ymin=0, ymax=0.2,
  ytick={0,0.05,0.1,0.15,0.2},
  yticklabels={0,0.05,0.1,0.15,0.2},
  xmajorgrids, xminorgrids, ymajorgrids,
  tick align=inside,
  major tick length=6.5pt, minor tick length=3.3pt,
  tick style={draw=axcol, line width=0.5pt},
  axis line style={draw=axcol, line width=0.6pt},
  tick label style={font=\tickfont, text=axcol},
  xticklabel style={yshift=-5pt},
  yticklabel style={xshift=-1.8pt},
  major grid style={draw=majgrid, line width=0.5pt},
  minor grid style={draw=mingrid, line width=0.5pt, dash pattern=on 0.5pt off 1.3pt},
  axis background/.style={fill=white},
  every axis plot/.append style={line join=round, line width=0.6pt},
]
\addplot[draw=gOn] coordinates {
(0.4,0) (0.6,0.0045) (0.8,0.0058) (1.0,0.0071) (1.46,0.0084) (2.0,0.0089) (2.88,0.0093)
(4.98,0.0104) (10,0.0123) (13.6,0.0130) (19.9,0.0141) (29.7,0.0164) (42.9,0.0186)
(59.5,0.0210) (61.8,0.0238) (76.4,0.0253) (100,0.0275) (141,0.0313) (200,0.0365)
(283,0.0424) (400,0.0495) (504,0.0545) (636,0.0605) (800,0.0648) (1000,0.0694)
(1371,0.0787) (2014,0.0945) (2444,0.1035) (2965,0.1131) (3450,0.1213) (4027,0.1299)
(4520,0.1364) (5000,0.1429)
};
\addplot[draw=bOff] coordinates {
(0.4,0) (0.6,0.0413) (0.8,0.0518) (1.0,0.0583) (1.2,0.0658) (1.38,0.0695) (1.63,0.0733)
(1.79,0.0779) (2.02,0.0803) (2.32,0.0826) (2.7,0.0869) (3.0,0.0913) (3.4,0.0937)
(4.0,0.0975) (4.47,0.0999) (4.98,0.1021) (5.71,0.1049) (6.37,0.1087) (7.11,0.1100)
(8.15,0.1124) (10,0.1161) (11.6,0.1185) (13.6,0.1211) (16.4,0.1243) (19.9,0.1280)
(24,0.1308) (29.7,0.1336) (38.2,0.1367) (50,0.1400) (70.7,0.1443) (100,0.1485)
(141,0.1522) (200,0.1563) (283,0.1600) (400,0.1638) (636,0.1690) (1000,0.1742)
(1371,0.1785) (2014,0.1830) (2965,0.1884) (4027,0.1925) (5000,0.1950)
};
\end{axis}

% titles and axis labels
\node[anchor=base, font=\bfseries\fontsize{12.2}{14}\selectfont, text=black]
  at (446.75pt,487.85pt) {Orbit PSD - 10 kHz Data};
\node[anchor=base west, font=\bfseries\fontsize{13.3}{15}\selectfont, text=black]
  at (369pt,232.85pt) {Cumulative};
\node[anchor=base west, inner sep=0pt, text=black]
  at (468pt,232.85pt) {{\fontsize{20}{22}\selectfont$\int$}\,{\bfseries\fontsize{9.6}{11}\selectfont PSD\hspace{4.5pt}df}};
\node[anchor=base, font=\fontsize{12.5}{15}\selectfont, text=axcol]
  at (446.75pt,8pt) {Frequency [Hz]};
\node[rotate=90, anchor=base, font=\fontsize{12.5}{15}\selectfont, text=axcol]
  at (31.5pt,389.5pt) {[$\mu$m\raisebox{6pt}{\fontsize{8.5}{9}\selectfont 2}\,/Hz]};
\node[rotate=90, anchor=base, font=\fontsize{12.5}{15}\selectfont, text=axcol]
  at (31.5pt,133.25pt) {[$\mu$m]};
\end{tikzpicture}
\end{document}
